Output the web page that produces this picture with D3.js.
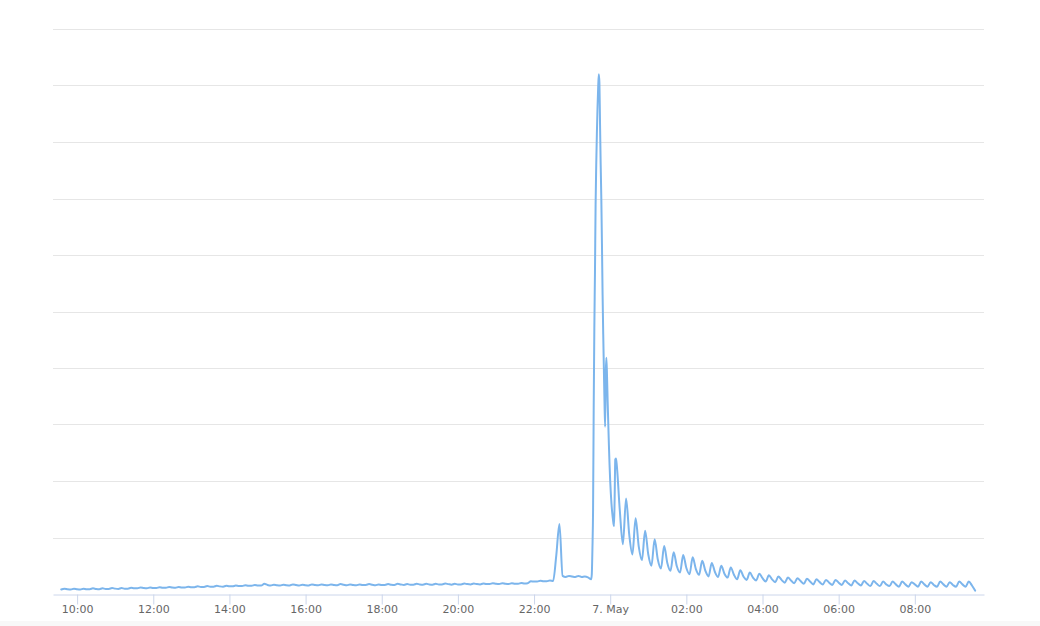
<!DOCTYPE html>
<html><head><meta charset="utf-8">
<script src="https://cdn.jsdelivr.net/npm/d3@7"></script>
<style>html,body{margin:0;padding:0;background:#fff;} svg{display:block;}</style>
</head><body><svg id="chart" width="1040" height="626"></svg>
<script>
// ---- data ----
// baseline, 5-minute samples 09:35 .. 23:30 (6 May)
const baseStart = new Date(2024, 4, 6, 9, 35);
const baseStepMin = 5;
const baseValues = [
  8, 9.5, 8.5, 8, 9.5, 8.5,
  8, 9.5, 8.5, 8.5, 10, 9, 8.5, 10, 9, 9, 10.5, 9.5,
  9, 10.5, 9.5, 9.5, 11, 10, 10, 11.5, 10.5, 10, 11.5, 10.5,
  10.5, 12, 11, 11, 12.5, 11.5, 11, 12.5, 11.5, 11.5, 13, 12,
  12, 13.5, 12.5, 12.5, 14, 13, 13, 14.5, 13.5, 13, 14.5, 13.5,
  13.5, 15, 14, 14, 15.5, 14.5, 14.5, 16, 15, 15, 18, 16,
  15, 16.5, 15.5, 15, 16.5, 15.5, 15, 17, 16, 15, 16.5, 15.5,
  15, 17, 16, 15.5, 17, 16, 15.5, 17, 16, 15.5, 17.5, 16.5,
  15.5, 17, 16, 15.5, 17, 16, 16, 17.5, 16.5, 15.5, 17, 16,
  16, 17.5, 16.5, 16, 18, 17, 16, 17.5, 16.5, 16.5, 18, 17,
  16.5, 18, 17, 16.5, 18, 17, 17, 18.5, 17.5, 16.5, 18, 17,
  17, 18.5, 17.5, 17, 18.5, 17.5, 17, 18.5, 17.5, 17.5, 19, 18,
  17.5, 19, 18, 17.5, 19, 18, 18, 19.5, 18.5, 19, 22.5, 22,
  22, 23.5, 22.5, 22.5, 24, 23, 68, 124, 32, 30, 32, 31,
  30, 32, 30, 31, 29.5, 26
];
// main surge, 1-minute samples 23:31 .. 00:10
const peakStart = new Date(2024, 4, 6, 23, 31);
const peakStepMin = 1;
const peakValues = [
  35, 80, 150, 330, 470, 570, 690, 760, 815, 860, 895, 920,
  905, 830, 760, 700, 620, 530, 460, 400, 340, 296, 390, 418,
  385, 340, 300, 262, 228, 200, 178, 160, 146, 135, 126, 120,
  170, 238, 240, 232
];
// decay, 5-minute samples 00:15 .. 09:35 (7 May)
const tailStart = new Date(2024, 4, 7, 0, 15);
const tailStepMin = 5;
const tailValues = [
  150, 88, 169, 105, 70, 134, 84, 60, 112, 70,
  50, 97, 61, 45, 85, 55, 41, 74, 49, 38, 69, 46,
  35, 65, 44, 34, 59, 41, 31, 55, 39, 30, 50, 36,
  29, 47, 34, 26, 42, 31, 25, 38, 29, 24, 36, 28,
  22, 33, 26, 21, 31, 25, 20, 29, 24, 19, 28, 23,
  18, 27, 22, 17, 26, 21, 17, 25, 20, 16, 25, 20,
  16, 24, 19, 15, 24, 19, 15, 23, 18, 14, 23, 18,
  14, 22, 17, 14, 22, 17, 13, 22, 17, 13, 21, 17,
  13, 22, 17, 13, 21, 16, 13, 22, 17, 13, 21, 16,
  13, 22, 17, 13, 22, 15, 6
];
const yTickValues = [0, 100, 200, 300, 400, 500, 600, 700, 800, 900, 1000];
const xDomain = [new Date(2024, 4, 6, 9, 22), new Date(2024, 4, 7, 9, 49)];

// ---- build ----
function seg(start, step, vals) {
  return vals.map((v, i) => ({ t: d3.timeMinute.offset(start, i * step), v }));
}
const data = [].concat(
  seg(baseStart, baseStepMin, baseValues),
  seg(peakStart, peakStepMin, peakValues),
  seg(tailStart, tailStepMin, tailValues)
);

const svg = d3.select("#chart");
const plotLeft = 53, plotRight = 984, plotTop = 29, plotBottom = 594;

svg.append("rect").attr("x", 0).attr("y", 621).attr("width", 1040).attr("height", 5).attr("fill", "#f8f8f8");

const x = d3.scaleTime().domain(xDomain).range([plotLeft, plotRight]);
const y = d3.scaleLinear().domain([0, 1000]).range([plotBottom, plotTop]);

// gridlines
svg.append("g").selectAll("line").data(yTickValues.filter(d => d > 0)).join("line")
  .attr("x1", plotLeft).attr("x2", plotRight)
  .attr("y1", d => Math.round(y(d)) + 0.5).attr("y2", d => Math.round(y(d)) + 0.5)
  .attr("stroke", "#e6e6e6").attr("stroke-width", 1);

// x axis
const fmtHM = d3.timeFormat("%H:%M"), fmtDay = d3.timeFormat("%-d. %b");
const xAxis = d3.axisBottom(x)
  .ticks(d3.timeHour.every(2))
  .tickSize(10).tickSizeOuter(0)
  .tickFormat(d => d.getHours() === 0 ? fmtDay(d) : fmtHM(d));
const gx = svg.append("g").attr("transform", `translate(0,${plotBottom + 0.5})`).call(xAxis);
gx.select(".domain").attr("stroke", "#ccd6eb");
gx.selectAll(".tick line").attr("stroke", "#ccd6eb");
gx.selectAll(".tick text")
  .attr("fill", "#666666")
  .attr("y", 18.5).attr("dy", 0)
  .style("font-family", "'DejaVu Sans', sans-serif")
  .style("font-size", "11px");

// line
const line = d3.line().curve(d3.curveMonotoneX).x(d => x(d.t)).y(d => y(d.v));
svg.append("path").datum(data)
  .attr("d", line)
  .attr("fill", "none")
  .attr("stroke", "#7cb5ec")
  .attr("stroke-width", 2)
  .attr("stroke-linejoin", "round")
  .attr("stroke-linecap", "round");
</script>
</body></html>
